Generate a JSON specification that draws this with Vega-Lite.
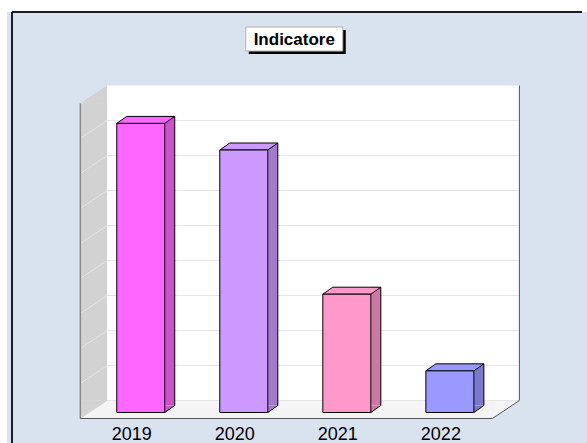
{
  "$schema": "https://vega.github.io/schema/vega-lite/v6.json",
  "width": 580,
  "height": 431,
  "autosize": {"type": "none"},
  "padding": {"left": 7, "top": 12, "right": 0, "bottom": 0},
  "background": "white",
  "config": {"view": {"fill": "#d9e2ef", "stroke": null}, "axis": {"disable": true}},
  "data": {"values": [
    {"year": 2019, "value": 8.26},
    {"year": 2020, "value": 7.5},
    {"year": 2021, "value": 3.38},
    {"year": 2022, "value": 1.19}
  ]},
  "layer": [
    {"data": {"values": [{}]},
     "mark": {"type": "rect", "fill": "#f4f4f4", "xOffset": 18, "x2Offset": -9, "yOffset": -12, "y2Offset": 6},
     "encoding": {"x": {"datum": 2018.5, "type": "quantitative", "scale": {"domain": [2017.7506, 2023.28231], "nice": false, "zero": false}}, "x2": {"datum": 2022.5},
                  "y": {"datum": 0, "type": "quantitative", "scale": {"domain": [-0.87143, 11.44286], "nice": false, "zero": false}}, "y2": {"datum": 0}}},
    {"data": {"values": [{}]},
     "mark": {"type": "point", "shape": "M-9,6L18,6L18,-12Z", "size": 4, "filled": true, "fill": "#f4f4f4", "stroke": "#f4f4f4", "strokeWidth": 0.5, "opacity": 1},
     "encoding": {"x": {"datum": 2018.5, "type": "quantitative", "scale": {"domain": [2017.7506, 2023.28231], "nice": false, "zero": false}},
                  "y": {"datum": 0, "type": "quantitative", "scale": {"domain": [-0.87143, 11.44286], "nice": false, "zero": false}}}},
    {"data": {"values": [{}]},
     "mark": {"type": "point", "shape": "M-9,6L-9,-12L18,-12Z", "size": 4, "filled": true, "fill": "#f4f4f4", "stroke": "#f4f4f4", "strokeWidth": 0.5, "opacity": 1},
     "encoding": {"x": {"datum": 2022.5, "type": "quantitative", "scale": {"domain": [2017.7506, 2023.28231], "nice": false, "zero": false}},
                  "y": {"datum": 0, "type": "quantitative", "scale": {"domain": [-0.87143, 11.44286], "nice": false, "zero": false}}}},
    {"data": {"values": [{}]},
     "mark": {"type": "rect", "fill": "#d2d2d2", "xOffset": -9, "x2Offset": 18, "yOffset": 6, "y2Offset": -12},
     "encoding": {"x": {"datum": 2018.5, "type": "quantitative", "scale": {"domain": [2017.7506, 2023.28231], "nice": false, "zero": false}}, "x2": {"datum": 2018.5},
                  "y": {"datum": 9, "type": "quantitative", "scale": {"domain": [-0.87143, 11.44286], "nice": false, "zero": false}}, "y2": {"datum": 0}}},
    {"data": {"values": [{}]},
     "mark": {"type": "point", "shape": "M-9,6L18,-12L18,6Z", "size": 4, "filled": true, "fill": "#d2d2d2", "stroke": "#d2d2d2", "strokeWidth": 0.5, "opacity": 1},
     "encoding": {"x": {"datum": 2018.5, "type": "quantitative", "scale": {"domain": [2017.7506, 2023.28231], "nice": false, "zero": false}},
                  "y": {"datum": 9, "type": "quantitative", "scale": {"domain": [-0.87143, 11.44286], "nice": false, "zero": false}}}},
    {"data": {"values": [{}]},
     "mark": {"type": "point", "shape": "M-9,6L18,-12L-9,-12Z", "size": 4, "filled": true, "fill": "#d2d2d2", "stroke": "#d2d2d2", "strokeWidth": 0.5, "opacity": 1},
     "encoding": {"x": {"datum": 2018.5, "type": "quantitative", "scale": {"domain": [2017.7506, 2023.28231], "nice": false, "zero": false}},
                  "y": {"datum": 0, "type": "quantitative", "scale": {"domain": [-0.87143, 11.44286], "nice": false, "zero": false}}}},
    {"data": {"values": [{}]},
     "mark": {"type": "rect", "fill": "#ffffff", "xOffset": 18, "x2Offset": 18, "yOffset": -12, "y2Offset": -12},
     "encoding": {"x": {"datum": 2018.5, "type": "quantitative", "scale": {"domain": [2017.7506, 2023.28231], "nice": false, "zero": false}}, "x2": {"datum": 2022.5},
                  "y": {"datum": 9, "type": "quantitative", "scale": {"domain": [-0.87143, 11.44286], "nice": false, "zero": false}}, "y2": {"datum": 0}}},
    {"data": {"values": [{"g": 0}, {"g": 1}, {"g": 2}, {"g": 3}, {"g": 4}, {"g": 5}, {"g": 6}, {"g": 7}, {"g": 8}]},
     "mark": {"type": "rule", "stroke": "#e6e6e6", "strokeWidth": 1, "xOffset": 18, "x2Offset": 18, "yOffset": -12, "y2Offset": -12},
     "encoding": {"x": {"datum": 2018.5, "type": "quantitative", "scale": {"domain": [2017.7506, 2023.28231], "nice": false, "zero": false}}, "x2": {"datum": 2022.5},
                  "y": {"field": "g", "type": "quantitative", "scale": {"domain": [-0.87143, 11.44286], "nice": false, "zero": false}}, "y2": {"field": "g"}}},
    {"data": {"values": [{"g": 1}, {"g": 2}, {"g": 3}, {"g": 4}, {"g": 5}, {"g": 6}, {"g": 7}, {"g": 8}]},
     "mark": {"type": "rule", "stroke": "#e4e4e4", "strokeWidth": 1, "xOffset": 18, "x2Offset": -9, "yOffset": -12, "y2Offset": 6},
     "encoding": {"x": {"datum": 2018.5, "type": "quantitative", "scale": {"domain": [2017.7506, 2023.28231], "nice": false, "zero": false}}, "x2": {"datum": 2018.5},
                  "y": {"field": "g", "type": "quantitative", "scale": {"domain": [-0.87143, 11.44286], "nice": false, "zero": false}}, "y2": {"field": "g"}}},
    {"data": {"values": [{}]},
     "mark": {"type": "rule", "stroke": "#666666", "strokeWidth": 1, "xOffset": -9, "x2Offset": -9, "yOffset": 6, "y2Offset": 6},
     "encoding": {"x": {"datum": 2018.5, "type": "quantitative", "scale": {"domain": [2017.7506, 2023.28231], "nice": false, "zero": false}}, "x2": {"datum": 2018.5},
                  "y": {"datum": 9, "type": "quantitative", "scale": {"domain": [-0.87143, 11.44286], "nice": false, "zero": false}}, "y2": {"datum": 0}}},
    {"data": {"values": [{}]},
     "mark": {"type": "rule", "stroke": "#555555", "strokeWidth": 1, "xOffset": -9, "x2Offset": -9, "yOffset": 6, "y2Offset": 6},
     "encoding": {"x": {"datum": 2018.5, "type": "quantitative", "scale": {"domain": [2017.7506, 2023.28231], "nice": false, "zero": false}}, "x2": {"datum": 2022.5},
                  "y": {"datum": 0, "type": "quantitative", "scale": {"domain": [-0.87143, 11.44286], "nice": false, "zero": false}}, "y2": {"datum": 0}}},
    {"data": {"values": [{}]},
     "mark": {"type": "rule", "stroke": "#555555", "strokeWidth": 1, "xOffset": -9, "x2Offset": 18, "yOffset": 6, "y2Offset": -12},
     "encoding": {"x": {"datum": 2022.5, "type": "quantitative", "scale": {"domain": [2017.7506, 2023.28231], "nice": false, "zero": false}}, "x2": {"datum": 2022.5},
                  "y": {"datum": 0, "type": "quantitative", "scale": {"domain": [-0.87143, 11.44286], "nice": false, "zero": false}}, "y2": {"datum": 0}}},
    {"data": {"values": [{}]},
     "mark": {"type": "rule", "stroke": "#555555", "strokeWidth": 1, "xOffset": 18, "x2Offset": 18, "yOffset": -12, "y2Offset": -12},
     "encoding": {"x": {"datum": 2022.5, "type": "quantitative", "scale": {"domain": [2017.7506, 2023.28231], "nice": false, "zero": false}}, "x2": {"datum": 2022.5},
                  "y": {"datum": 0, "type": "quantitative", "scale": {"domain": [-0.87143, 11.44286], "nice": false, "zero": false}}, "y2": {"datum": 9}}},
    {"mark": {"type": "bar", "size": 10, "xOffset": 29, "yOffset": -7, "y2Offset": -7},
     "encoding": {"x": {"field": "year", "type": "quantitative", "scale": {"domain": [2017.7506, 2023.28231], "nice": false, "zero": false}},
                  "y": {"field": "value", "type": "quantitative", "scale": {"domain": [-0.87143, 11.44286], "nice": false, "zero": false}}, "y2": {"datum": 0},
                  "fill": {"field": "year", "type": "nominal", "scale": {"domain": [2019, 2020, 2021, 2022], "range": ["#cc52cc", "#a37acc", "#cc7aa3", "#7a7acc"]}, "legend": null}}},
    {"mark": {"type": "point", "shape": "M24,-7L34,-7L24,0Z", "size": 4, "filled": true, "opacity": 1, "strokeWidth": 0},
     "encoding": {"x": {"field": "year", "type": "quantitative", "scale": {"domain": [2017.7506, 2023.28231], "nice": false, "zero": false}},
                  "y": {"datum": 0, "type": "quantitative", "scale": {"domain": [-0.87143, 11.44286], "nice": false, "zero": false}},
                  "fill": {"field": "year", "type": "nominal", "scale": {"domain": [2019, 2020, 2021, 2022], "range": ["#cc52cc", "#a37acc", "#cc7aa3", "#7a7acc"]}, "legend": null}}},
    {"mark": {"type": "point", "shape": "M-24,0L-14,-7L34,-7L24,0Z", "size": 4, "filled": true, "opacity": 1, "stroke": "#000000", "strokeWidth": 1},
     "encoding": {"x": {"field": "year", "type": "quantitative", "scale": {"domain": [2017.7506, 2023.28231], "nice": false, "zero": false}},
                  "y": {"field": "value", "type": "quantitative", "scale": {"domain": [-0.87143, 11.44286], "nice": false, "zero": false}},
                  "color": {"field": "year", "type": "nominal", "scale": {"domain": [2019, 2020, 2021, 2022], "range": ["#ff66ff", "#cc99ff", "#ff99cc", "#9999ff"]}, "legend": null}}},
    {"mark": {"type": "bar", "size": 48, "stroke": "#000000", "strokeWidth": 1},
     "encoding": {"x": {"field": "year", "type": "quantitative", "scale": {"domain": [2017.7506, 2023.28231], "nice": false, "zero": false}},
                  "y": {"field": "value", "type": "quantitative", "scale": {"domain": [-0.87143, 11.44286], "nice": false, "zero": false}}, "y2": {"datum": 0},
                  "color": {"field": "year", "type": "nominal", "scale": {"domain": [2019, 2020, 2021, 2022], "range": ["#ff66ff", "#cc99ff", "#ff99cc", "#9999ff"]}, "legend": null}}},
    {"mark": {"type": "rule", "stroke": "#000000", "strokeWidth": 1, "xOffset": 34, "yOffset": -7, "y2Offset": -7},
     "encoding": {"x": {"field": "year", "type": "quantitative", "scale": {"domain": [2017.7506, 2023.28231], "nice": false, "zero": false}},
                  "y": {"field": "value", "type": "quantitative", "scale": {"domain": [-0.87143, 11.44286], "nice": false, "zero": false}}, "y2": {"datum": 0}}},
    {"mark": {"type": "rule", "stroke": "#000000", "strokeWidth": 1, "xOffset": 24, "x2Offset": 34, "yOffset": 0, "y2Offset": -7},
     "encoding": {"x": {"field": "year", "type": "quantitative", "scale": {"domain": [2017.7506, 2023.28231], "nice": false, "zero": false}}, "x2": {"field": "year"},
                  "y": {"datum": 0, "type": "quantitative", "scale": {"domain": [-0.87143, 11.44286], "nice": false, "zero": false}}, "y2": {"datum": 0}}},
    {"mark": {"type": "text", "font": "Liberation Sans", "fontSize": 18, "color": "#000000", "align": "center", "baseline": "alphabetic", "xOffset": -9, "yOffset": 28},
     "encoding": {"x": {"field": "year", "type": "quantitative", "scale": {"domain": [2017.7506, 2023.28231], "nice": false, "zero": false}},
                  "y": {"datum": 0, "type": "quantitative", "scale": {"domain": [-0.87143, 11.44286], "nice": false, "zero": false}},
                  "text": {"field": "year", "type": "nominal"}}},
    {"data": {"values": [{}]},
     "mark": {"type": "rect", "fill": "#000000", "xOffset": -45.5, "x2Offset": 51.5, "yOffset": -9, "y2Offset": 15},
     "encoding": {"x": {"datum": 2020.49, "type": "quantitative", "scale": {"domain": [2017.7506, 2023.28231], "nice": false, "zero": false}}, "x2": {"datum": 2020.49},
                  "y": {"datum": 10.67, "type": "quantitative", "scale": {"domain": [-0.87143, 11.44286], "nice": false, "zero": false}}, "y2": {"datum": 10.67}}},
    {"data": {"values": [{}]},
     "mark": {"type": "rect", "fill": "#ffffff", "stroke": "#b0b0b0", "strokeWidth": 1, "xOffset": -48.5, "x2Offset": 48.5, "yOffset": -12, "y2Offset": 12},
     "encoding": {"x": {"datum": 2020.49, "type": "quantitative", "scale": {"domain": [2017.7506, 2023.28231], "nice": false, "zero": false}}, "x2": {"datum": 2020.49},
                  "y": {"datum": 10.67, "type": "quantitative", "scale": {"domain": [-0.87143, 11.44286], "nice": false, "zero": false}}, "y2": {"datum": 10.67}}},
    {"data": {"values": [{}]},
     "mark": {"type": "text", "text": "Indicatore", "font": "Liberation Sans", "fontSize": 17, "fontWeight": "bold", "color": "#000000", "align": "center", "baseline": "middle", "yOffset": 1},
     "encoding": {"x": {"datum": 2020.49, "type": "quantitative", "scale": {"domain": [2017.7506, 2023.28231], "nice": false, "zero": false}},
                  "y": {"datum": 10.67, "type": "quantitative", "scale": {"domain": [-0.87143, 11.44286], "nice": false, "zero": false}}}},
    {"data": {"values": [{}]},
     "mark": {"type": "rule", "stroke": "#1e1e1e", "strokeWidth": 2},
     "encoding": {"x": {"datum": 2017.7506, "type": "quantitative", "scale": {"domain": [2017.7506, 2023.28231], "nice": false, "zero": false}},
                  "y": {"datum": -0.87143, "type": "quantitative", "scale": {"domain": [-0.87143, 11.44286], "nice": false, "zero": false}}, "y2": {"datum": 11.44286}}},
    {"data": {"values": [{}]},
     "mark": {"type": "rule", "stroke": "#1e1e1e", "strokeWidth": 2},
     "encoding": {"x": {"datum": 2017.7506, "type": "quantitative", "scale": {"domain": [2017.7506, 2023.28231], "nice": false, "zero": false}}, "x2": {"datum": 2023.28231},
                  "y": {"datum": 11.44286, "type": "quantitative", "scale": {"domain": [-0.87143, 11.44286], "nice": false, "zero": false}}}}
  ]
}
